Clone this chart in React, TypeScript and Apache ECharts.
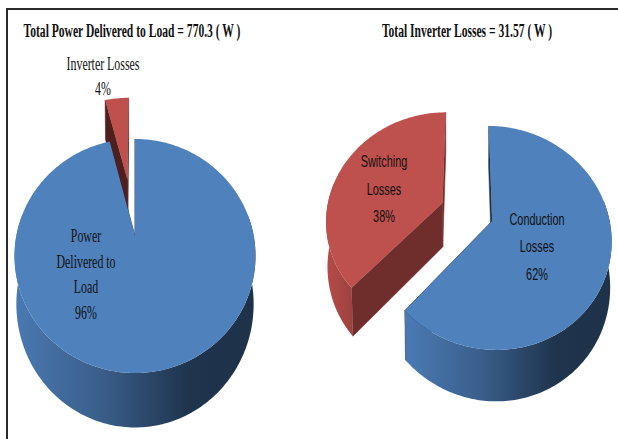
import React, { useEffect, useRef } from "react";
import * as echarts from "echarts";

// ---- data ----
const leftTitle = "Total Power Delivered to Load = 770.3 ( W )";
const rightTitle = "Total Inverter Losses = 31.57 ( W )";
const leftNames = ["Power\nDelivered to\nLoad", "Inverter Losses"];
const leftValues = [96, 4];
const rightNames = ["Conduction\nLosses", "Switching\nLosses"];
const rightValues = [62, 38];

// ---- look ----
const BLUE = "#4F81BD";
const RED = "#BE504D";
const BLUE_CUT = "#1E3249";
const RED_CUT = "#6F2E2C";
const RED_CUT_LEFT = "#4E1F1E";

const leftPie = {
  cx: 135, cy: 236, a: 118.7, b: 113.6, p: -0.171, h: 48, q: 0.015,
  explode: [0, 0.54], colors: [BLUE, RED], cut: [BLUE_CUT, RED_CUT_LEFT],
  z: [20, 10], xRange: [[15, 256], [100, 130]],
  font: "18px 'Liberation Serif'", scaleX: 0.66, lineHeight: 26,
  labels: [[86, 274], [103, 76]],
};
const rightPie = {
  cx: 467, cy: 211.8, a: 116, b: 106.6, p: -0.15, h: 45, q: 0.01,
  explode: [0.23, 0.23], colors: [BLUE, RED], cut: [BLUE_CUT, RED_CUT],
  z: [20, 10], xRange: [[409, 612], [326, 375]],
  font: "17px 'Liberation Sans'", scaleX: 0.64, lineHeight: 27.5,
  labels: [[537, 246.5], [384, 189]],
};

const wallFill = (isBlue: boolean, x0: number, x1: number) =>
  new echarts.graphic.LinearGradient(
    x0, 0, x1, 0,
    isBlue
      ? [
          { offset: 0, color: "#4A79B2" },
          { offset: 0.35, color: "#3A5F8B" },
          { offset: 0.72, color: "#1F344D" },
          { offset: 1, color: "#1E3249" },
        ]
      : [
          { offset: 0, color: "#B54C49" },
          { offset: 1, color: "#8A3937" },
        ],
    true as any
  );

function renderPie(cfg: any, names: string[], values: number[]) {
  const total = values.reduce((s, v) => s + v, 0);
  const project = (u: number, v: number, lower: boolean): number[] => {
    const den = 1 + cfg.p * v + (lower ? cfg.q : 0);
    return [
      cfg.cx + (cfg.a * u) / den,
      cfg.cy + (cfg.b * v + (lower ? cfg.h : 0)) / den,
    ];
  };
  return (params: any, api: any) => {
    const i = params.dataIndex;
    let startVal = 0;
    for (let k = 0; k < i; k++) startVal += values[k];
    const value = api.value(0);
    const t0 = (startVal / total) * Math.PI * 2;
    const t1 = ((startVal + value) / total) * Math.PI * 2;
    const mid = (t0 + t1) / 2;
    const ox = cfg.explode[i] * Math.sin(mid);
    const oy = -cfg.explode[i] * Math.cos(mid);
    const pt = (t: number, lower: boolean) =>
      project(ox + Math.sin(t), oy - Math.cos(t), lower);
    const steps = Math.max(4, Math.round(((t1 - t0) * 180) / Math.PI));
    const top: number[][] = [];
    const frontTop: number[][] = [];
    const frontBottom: number[][] = [];
    const bottom: number[][] = [];
    for (let s = 0; s <= steps; s++) {
      const t = t0 + ((t1 - t0) * s) / steps;
      top.push(pt(t, false));
      bottom.push(pt(t, true));
      if (-Math.cos(t) > -0.2) {
        frontTop.push(pt(t, false));
        frontBottom.push(pt(t, true));
      }
    }
    const apexTop = project(ox, oy, false);
    const apexLow = project(ox, oy, true);
    const z = cfg.z[i];
    const isBlue = cfg.colors[i] === BLUE;
    const [x0, x1] = cfg.xRange[i];
    const cutWall = (a: number[], b: number[]) => ({
      type: "polygon",
      z2: z,
      shape: { points: [apexTop, a, b, apexLow] },
      style: { fill: cfg.cut[i], stroke: cfg.cut[i], lineWidth: 0.5 },
    });
    const children: any[] = [
      cutWall(top[0], bottom[0]),
      cutWall(top[steps], bottom[steps]),
    ];
    if (frontTop.length > 1) {
      children.push({
        type: "polygon",
        z2: z + 1,
        shape: { points: frontTop.concat(frontBottom.slice().reverse()) },
        style: { fill: wallFill(isBlue, x0, x1) },
      });
    }
    children.push(
      {
        type: "polygon",
        z2: z + 2,
        shape: { points: [apexTop].concat(top) },
        style: { fill: cfg.colors[i] },
      },
      {
        type: "text",
        z2: 40,
        x: cfg.labels[i][0],
        y: cfg.labels[i][1],
        scaleX: cfg.scaleX,
        style: {
          text: `${names[i]}\n${value}%`,
          font: cfg.font,
          lineHeight: cfg.lineHeight,
          fill: "#111111",
          textAlign: "center",
          textVerticalAlign: "middle",
          align: "center",
          verticalAlign: "middle",
        },
      }
    );
    return { type: "group", children };
  };
}

const titleStyle = (text: string) => ({
  text,
  font: "bold 19px 'Liberation Serif'",
  fill: "#111111",
  textAlign: "center",
  textVerticalAlign: "middle",
  align: "center",
  verticalAlign: "middle",
});

export default function App() {
  const ref = useRef<HTMLDivElement>(null);
  useEffect(() => {
    document.body.style.margin = "0";
    const chart = echarts.init(ref.current!, null, { renderer: "svg" });
    chart.setOption({
      animation: false,
      backgroundColor: "#FFFFFF",
      series: [
        {
          type: "custom",
          coordinateSystem: "none",
          data: leftValues.map((v) => [v]),
          renderItem: renderPie(leftPie, leftNames, leftValues),
          silent: true,
        },
        {
          type: "custom",
          coordinateSystem: "none",
          data: rightValues.map((v) => [v]),
          renderItem: renderPie(rightPie, rightNames, rightValues),
          silent: true,
        },
      ],
      graphic: [
        { type: "rect", shape: { x: 6, y: 8, width: 612, height: 2 }, style: { fill: "#2A2A2A" } },
        { type: "rect", shape: { x: 6, y: 8, width: 2, height: 431 }, style: { fill: "#2A2A2A" } },
        { type: "text", x: 132, y: 30, scaleX: 0.61, style: titleStyle(leftTitle) },
        { type: "text", x: 467, y: 30, scaleX: 0.61, style: titleStyle(rightTitle) },
      ],
    });
    return () => chart.dispose();
  }, []);
  return (
    <div
      ref={ref}
      style={{ position: "fixed", left: 0, top: 0, width: 618, height: 439 }}
    />
  );
}
